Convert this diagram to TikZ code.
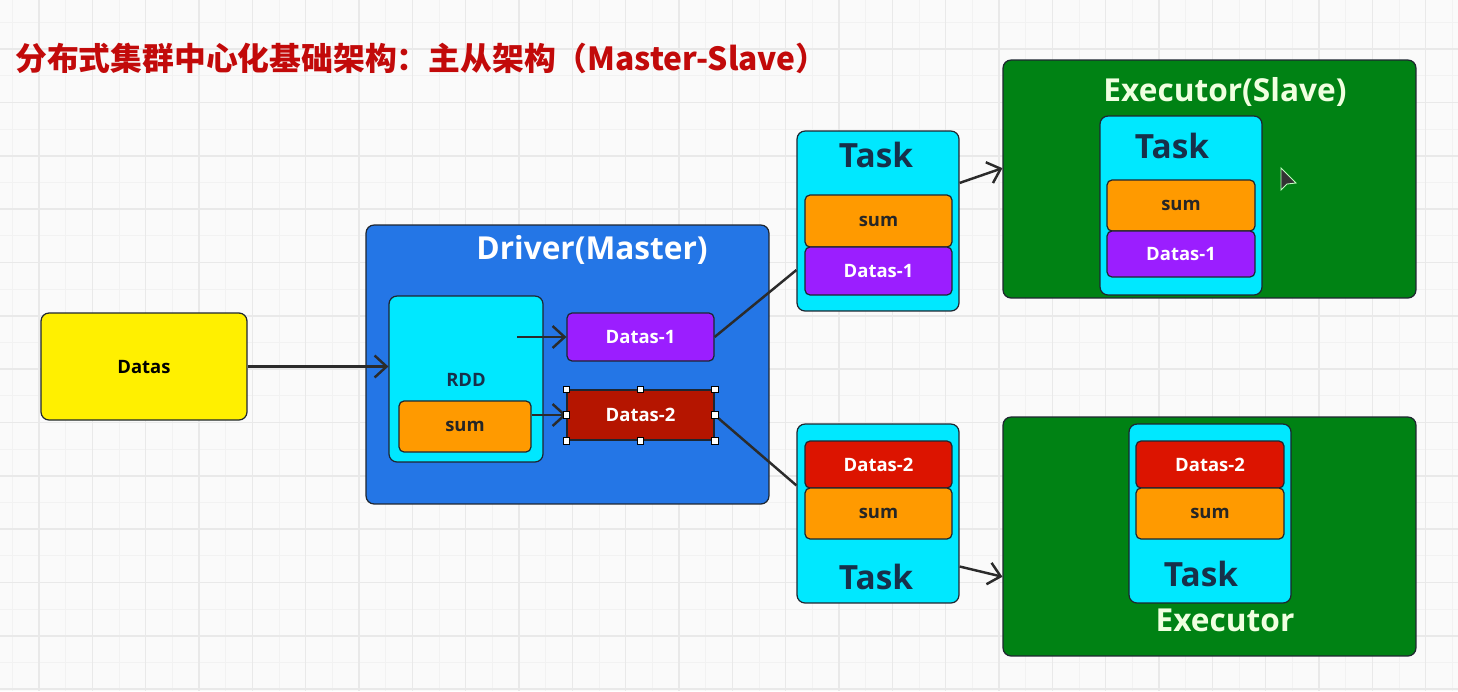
\documentclass[tikz,border=0pt]{standalone}
\usepackage{fontspec}
\setmainfont{Open Sans}
\newfontfamily\cjkfont{Noto Sans CJK SC}
\usetikzlibrary{arrows.meta,calc}

\definecolor{titlered}{HTML}{C20A0A}
\definecolor{datayellow}{HTML}{FFF000}
\definecolor{driverblue}{HTML}{2476E6}
\definecolor{taskcyan}{HTML}{00E8FF}
\definecolor{sumorange}{HTML}{FF9A00}
\definecolor{partpurple}{HTML}{9B1EFF}
\definecolor{partred}{HTML}{DC1400}
\definecolor{partdark}{HTML}{B51500}
\definecolor{exegreen}{HTML}{008214}
\definecolor{tasknavy}{HTML}{17304A}
\definecolor{execream}{HTML}{F0FFE0}
\definecolor{edge}{HTML}{1E2630}
\definecolor{linkgray}{HTML}{2B2B2B}
\definecolor{gridmajor}{HTML}{E9E9E9}
\definecolor{gridminor}{HTML}{F2F2F2}
\definecolor{canvas}{HTML}{FAFAFA}

\tikzset{
  block/.style={draw=edge,line width=0.7pt,rounded corners=0.16cm,inner sep=0pt},
  part/.style={block,rounded corners=0.1cm,minimum width=2.94cm,font=\bfseries\fontsize{10.5}{12}\selectfont},
  sumpart/.style={part,fill=sumorange,text=black!85},
  onepart/.style={part,fill=partpurple,text=white},
  twopart/.style={part,fill=partred,text=white},
  taskbox/.style={block,fill=taskcyan,minimum width=3.24cm,minimum height=3.58cm},
  exebox/.style={block,fill=exegreen,minimum width=8.26cm},
  bigtext/.style={inner sep=0pt,font=\bfseries\fontsize{18}{20}\selectfont},
  tasklabel/.style={bigtext,text=tasknavy,font=\bfseries\fontsize{19}{21}\selectfont},
  link/.style={draw=linkgray,line width=1.4pt},
  flow/.style={link,-{Straight Barb[length=2.4mm,width=4.4mm]}},
  handle/.style={draw=black,fill=white,line width=0.4pt,minimum size=0.13cm,inner sep=0pt}
}

\begin{document}
\begin{tikzpicture}[x=0.02cm,y=-0.02cm]
  % canvas and grid
  \fill[canvas] (0,0) rectangle (1458,691);
  \useasboundingbox (0,0) rectangle (1458,691);
  \foreach \k in {0,...,56}{\draw[gridminor,line width=0.6pt] ({-14.3+26.667*\k},0) -- ++(0,691);}
  \foreach \k in {0,...,27}{\draw[gridminor,line width=0.6pt] (0,{-4.2+26.667*\k}) -- ++(1458,0);}
  \foreach \k in {0,...,28}{\draw[gridmajor,line width=0.8pt] ({-14.3+53.333*\k},0) -- ++(0,691);}
  \foreach \k in {0,...,13}{\draw[gridmajor,line width=0.8pt] (0,{-4.2+53.333*\k}) -- ++(1458,0);}

  % title
  \node[anchor=west,inner sep=0pt,text=titlered,font=\cjkfont\bfseries\fontsize{18.1}{20}\selectfont] (title) at (15,58) {分布式集群中心化基础架构：主从架构（Master-Slave）};

  % source data
  \node[block,fill=datayellow,minimum width=4.12cm,minimum height=2.14cm,font=\bfseries\fontsize{10.5}{12}\selectfont] (datas) at (144,366.5) {Datas};

  % driver with the RDD and its two partitions
  \node[block,fill=driverblue,minimum width=8.06cm,minimum height=5.58cm] (driver) at (567.5,364.5) {};
  \node[bigtext,text=white] (drivertitle) at (592,250) {Driver(Master)};
  \node[block,fill=taskcyan,minimum width=3.08cm,minimum height=3.32cm] (rdd) at (466,379) {};
  \node[inner sep=0pt,text=tasknavy,font=\bfseries\fontsize{10.5}{12}\selectfont] (rddlabel) at (466,380) {RDD};
  \node[sumpart,minimum width=2.64cm,minimum height=1.02cm] (rddsum) at (465,426.5) {sum};
  \node[onepart,minimum height=0.96cm] (d1) at (640.5,337) {Datas-1};
  \node[twopart,fill=partdark,rounded corners=0pt,minimum height=1.0cm] (d2) at (640.5,415) {Datas-2};
  \coordinate (rddout) at (517,337);
  \draw[flow] (datas.east) -- (datas.east -| rdd.west);
  \draw[flow] (rddout) -- (d1.west);
  \draw[flow] (rddsum.east |- d2.west) -- (d2.west);

  % first task and its executor
  \node[taskbox,minimum height=3.6cm] (taskA) at (878,221) {};
  \node[tasklabel] (taskAlabel) at (876,155) {Task};
  \node[sumpart,minimum height=1.04cm] (taskAsum) at (878.5,221) {sum};
  \node[onepart,minimum height=0.96cm] (taskAd1) at (878.5,271) {Datas-1};
  \node[exebox,minimum height=4.76cm] (exeA) at (1209.5,179) {};
  \node[bigtext,text=execream] (exeAtitle) at (1225,92) {Executor(Slave)};
  \node[taskbox] (exeAtask) at (1181,205.5) {};
  \node[tasklabel] (exeAlabel) at (1172,146) {Task};
  \node[sumpart,minimum width=2.96cm,minimum height=1.02cm] (exeAsum) at (1181,205.5) {sum};
  \node[onepart,minimum width=2.96cm,minimum height=0.92cm] (exeAd1) at (1181,254) {Datas-1};

  % second task and its executor
  \node[taskbox] (taskB) at (878,513.5) {};
  \node[twopart,minimum height=0.94cm] (taskBd2) at (878.5,464.5) {Datas-2};
  \node[sumpart,minimum height=1.02cm] (taskBsum) at (878.5,513.5) {sum};
  \node[tasklabel] (taskBlabel) at (876,577) {Task};
  \node[exebox,minimum height=4.78cm] (exeB) at (1209.5,536.5) {};
  \node[taskbox] (exeBtask) at (1210,513.5) {};
  \node[twopart,minimum width=2.96cm,minimum height=0.94cm] (exeBd2) at (1210,464.5) {Datas-2};
  \node[sumpart,minimum width=2.96cm,minimum height=1.02cm] (exeBsum) at (1210,513.5) {sum};
  \node[tasklabel] (exeBlabel) at (1201,574) {Task};
  \node[bigtext,text=execream] (exeBtitle) at (1225,620) {Executor};

  % links from the partitions to the tasks, tasks to the executors
  \draw[link] (d1.east) -- (taskA.211);
  \draw[link] (d2.east) -- (taskB.161);
  \draw[flow] (taskA.25) -- (exeA.177);
  \draw[flow] (taskB.-33) -- (exeB.191);

  % selection handles on Datas-2
  \foreach \a [count=\i] in {north west,north,north east,west,east,south west,south,south east}
    \node[handle] (hd\i) at (d2.\a) {};

  % mouse pointer
  \filldraw[fill=black!80,draw=white!75!green,line width=0.5pt] (1281,168) -- (1281,190) -- (1287,184) -- (1296,183) -- cycle;
\end{tikzpicture}
\end{document}
